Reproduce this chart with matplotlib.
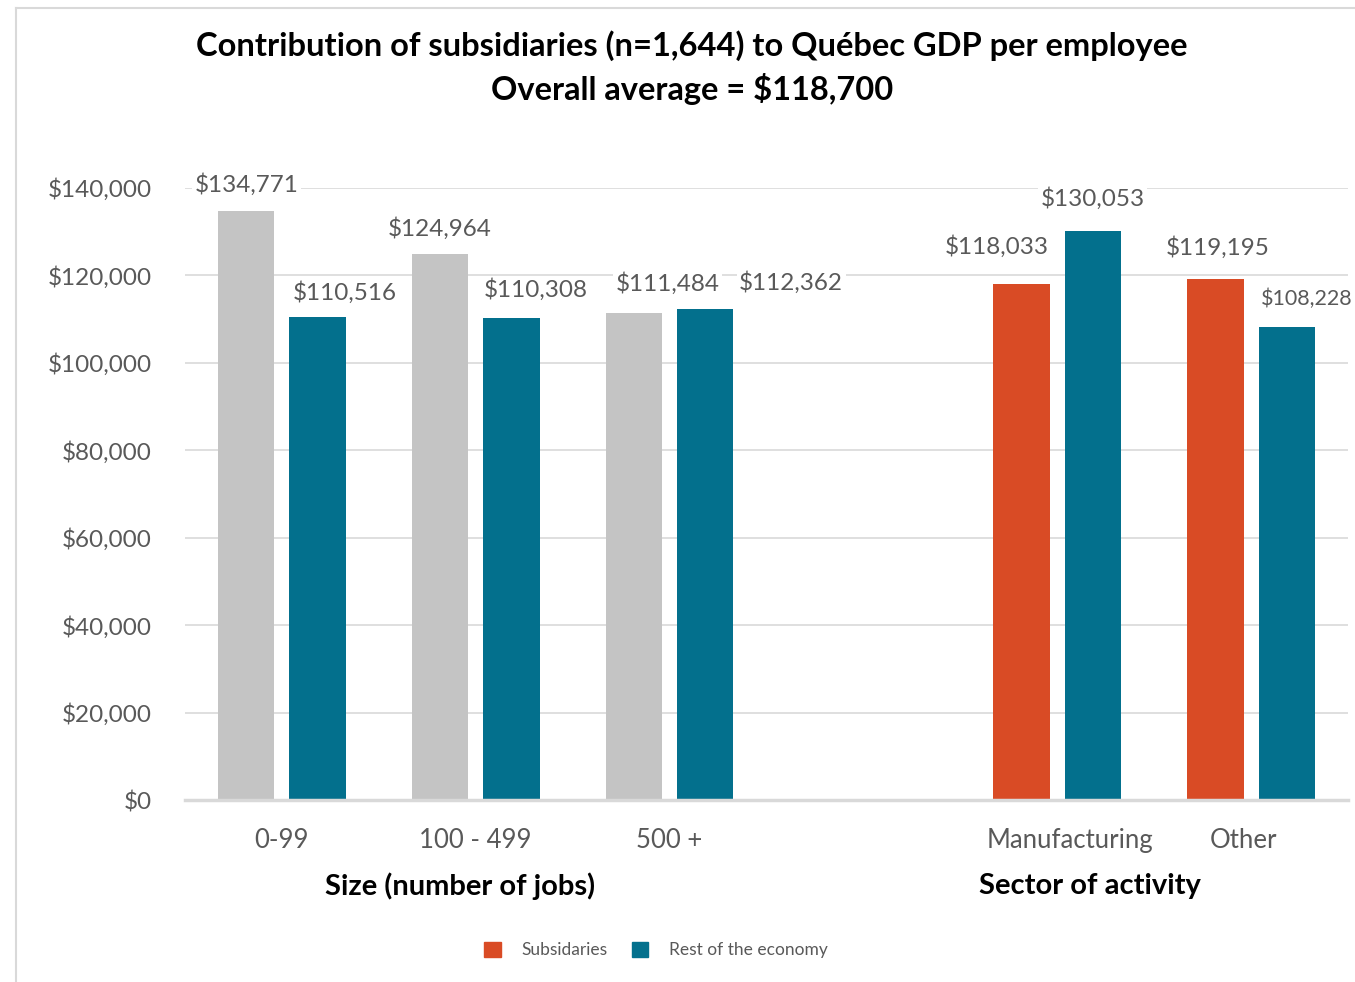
import matplotlib
matplotlib.use("Agg")
import matplotlib.pyplot as plt
import matplotlib.transforms as mtransforms
from matplotlib.patches import Patch
from matplotlib.lines import Line2D
import numpy as np

# Data
categories = ["0-99", "100 - 499", "500 +", "Manufacturing", "Other"]
cat_positions = [0, 1, 2, 4, 5]
subsidiaries = [134771, 124964, 111484, 118033, 119195]
rest_of_economy = [110516, 110308, 112362, 130053, 108228]
yticks = [0, 20000, 40000, 60000, 80000, 100000, 120000, 140000]
group_titles = ["Size (number of jobs)", "Sector of activity"]
legend_labels = ["Subsidaries", "Rest of the economy"]
title_lines = ["Contribution of subsidiaries (n=1,644) to Québec GDP per employee",
               "Overall average = $118,700"]

# Styling
GREY = "#C4C4C4"
TEAL = "#03708D"
ORANGE = "#D94B25"
TXT = "#595959"
GRID = "#D9D9D9"
FONT = ["Lato", "DejaVu Sans"]
plt.rcParams["font.family"] = FONT

W, H, DPI = 1355, 982, 100
fig = plt.figure(figsize=(W / DPI, H / DPI), dpi=DPI)
ax = fig.add_axes([185 / W, 1 - 800 / H, (1348 - 185) / W, (800 - 188) / H])

bar_w = 0.29
off = 0.184
sub_colors = [GREY, GREY, GREY, ORANGE, ORANGE]
x = np.array(cat_positions, dtype=float)
b1 = ax.bar(x - off, subsidiaries, width=bar_w, color=sub_colors, zorder=3)
b2 = ax.bar(x + off, rest_of_economy, width=bar_w, color=TEAL, zorder=3)

ax.set_xlim(-0.5, 5.5)
ax.set_ylim(0, 140000)
ax.set_yticks(yticks)
ax.set_yticklabels([f"${v:,.0f}" for v in yticks], color=TXT, fontsize=17.5)
ax.tick_params(axis="y", length=0, pad=24)
ax.set_xticks(cat_positions)
ax.set_xticklabels(categories, color=TXT, fontsize=18.5)
ax.tick_params(axis="x", length=0, pad=20)

# Small horizontal shifts (pixels) for the category labels
xlabel_shift = [0, 0, 0, 13, -8]
for lbl, dx in zip(ax.get_xticklabels(), xlabel_shift):
    lbl.set_transform(lbl.get_transform() +
                      mtransforms.ScaledTranslation(dx / DPI, 0, fig.dpi_scale_trans))

ax.grid(axis="y", color=GRID, linewidth=1.2, zorder=0)
for s in ["top", "right", "left"]:
    ax.spines[s].set_visible(False)
ax.spines["bottom"].set_color("#D9D9D9")
ax.spines["bottom"].set_linewidth(2.5)
ax.spines["bottom"].set_zorder(4)

# Value labels, nudged (in pixels) away from neighbouring bars
sub_nudge = [(0, 26), (0, 25), (34, 29), (-25, 38), (2, 31)]
rest_nudge = [(27, 24), (24, 28), (86, 26), (0, 33), (20, 28)]
sub_size = [17.5] * 5
rest_size = [17.5, 17.5, 17.5, 17.5, 15.5]
bbox = dict(boxstyle="square,pad=0.1", fc="white", ec="none")
for bars, vals, nudges, sizes in [(b1, subsidiaries, sub_nudge, sub_size),
                                  (b2, rest_of_economy, rest_nudge, rest_size)]:
    for rect, v, (dx, dy), fs in zip(bars, vals, nudges, sizes):
        ax.annotate(f"${v:,.0f}", (rect.get_x() + rect.get_width() / 2, v),
                    xytext=(dx * 72 / DPI, dy * 72 / DPI), textcoords="offset points",
                    ha="center", va="center", fontsize=fs, color=TXT,
                    bbox=bbox, zorder=5, annotation_clip=False)

# Group titles below the category labels
fig.text(460 / W, 1 - 886 / H, group_titles[0], ha="center", va="center",
         fontsize=21, fontweight="bold", color="black")
fig.text(1090 / W, 1 - 886 / H, group_titles[1], ha="center", va="center",
         fontsize=21, fontweight="bold", color="black")

# Title
fig.text(692 / W, 1 - 46 / H, title_lines[0], ha="center", va="center",
         fontsize=23.5, fontweight="bold", color="black")
fig.text(692 / W, 1 - 89 / H, title_lines[1], ha="center", va="center",
         fontsize=23.5, fontweight="bold", color="black")

# Legend
handles = [Patch(color=ORANGE), Patch(color=TEAL)]
fig.legend(handles, legend_labels, loc="center", bbox_to_anchor=(656 / W, 1 - 950 / H),
           ncol=2, frameon=False, fontsize=12.5, handlelength=0.95, handleheight=0.95,
           handletextpad=1.2, columnspacing=1.4, labelcolor=TXT)

# Chart frame edges
fig.add_artist(Line2D([16 / W, 1], [1 - 8 / H, 1 - 8 / H], color="#D9D9D9", lw=1.5,
                      transform=fig.transFigure))
fig.add_artist(Line2D([16 / W, 16 / W], [0, 1 - 8 / H], color="#D9D9D9", lw=1.5,
                      transform=fig.transFigure))

fig.savefig("out.png", dpi=DPI)
